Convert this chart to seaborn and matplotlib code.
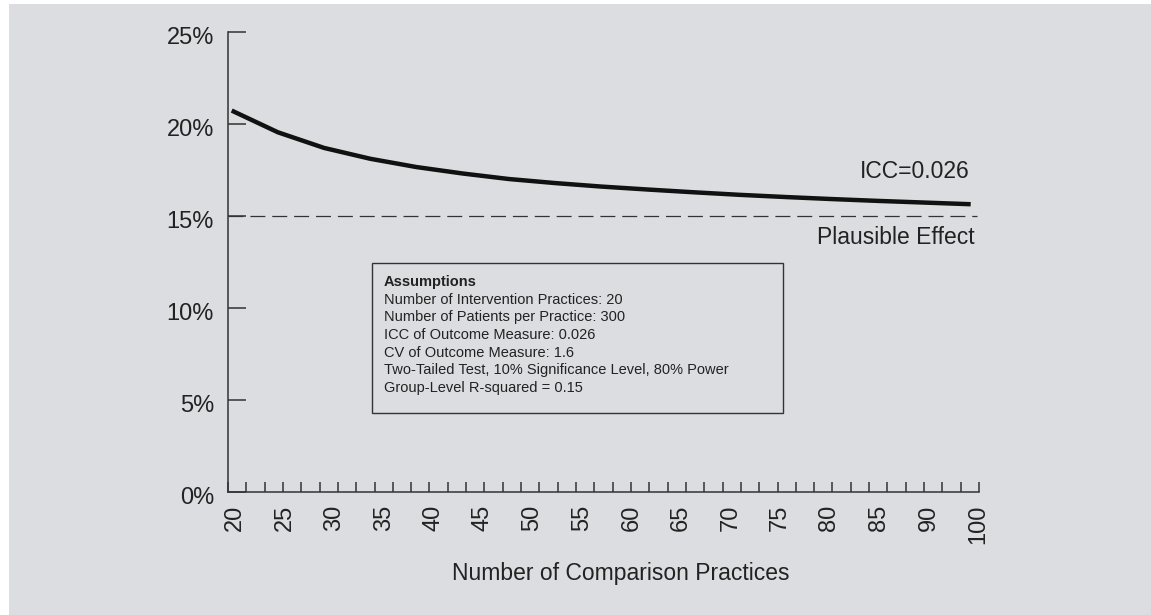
import numpy as np
import pandas as pd
import matplotlib
matplotlib.use("Agg")
import matplotlib.pyplot as plt
import matplotlib.transforms as mtransforms
from matplotlib.patches import Rectangle
import seaborn as sns

# Data
comparison_practices = [20, 25, 30, 35, 40, 45, 50, 55, 60, 65, 70, 75, 80, 85, 90, 95, 100]
min_detectable_effect = [20.73, 19.55, 18.70, 18.11, 17.66, 17.31, 17.01, 16.79, 16.60,
                         16.44, 16.29, 16.15, 16.03, 15.92, 15.82, 15.73, 15.64]
plausible_effect = 15
x_tick_labels = ["20", "25", "30", "35", "40", "45", "50", "55", "60", "65",
                 "70", "75", "80", "85", "90", "100"]
y_ticks = [0, 5, 10, 15, 20, 25]
assumptions = [
    "Number of Intervention Practices: 20",
    "Number of Patients per Practice: 300",
    "ICC of Outcome Measure: 0.026",
    "CV of Outcome Measure: 1.6",
    "Two-Tailed Test, 10% Significance Level, 80% Power",
    "Group-Level R-squared = 0.15",
]

df = pd.DataFrame({"n": comparison_practices, "mde": min_detectable_effect})

bg = "#dcdde0"
ink = "#222222"

sns.set_theme(style="ticks")
plt.rcParams["font.family"] = ["Liberation Sans", "DejaVu Sans"]

fig = plt.figure(figsize=(11.51, 6.15), dpi=100, facecolor="white")
fig.patches.append(Rectangle((9 / 1151, 0), 1, (615 - 4) / 615, transform=fig.transFigure,
                             facecolor=bg, edgecolor="none", zorder=-10))
ax = fig.add_axes([228 / 1151, 1 - 492 / 615, (979 - 228) / 1151, (492 - 32) / 615])
ax.set_facecolor(bg)

sns.lineplot(data=df, x="n", y="mde", ax=ax, color="#111111", linewidth=3.2,
             solid_capstyle="butt", solid_joinstyle="round")
ax.axhline(plausible_effect, xmin=0, xmax=(977 - 228) / 751, color="#333333",
           linewidth=0.9, dashes=(12, 5.5))

ax.set_xlim(19.6, 100.9)
ax.set_ylim(0, 25)

for side in ["top", "right"]:
    ax.spines[side].set_visible(False)
for side in ["left", "bottom"]:
    ax.spines[side].set_color("#333333")
    ax.spines[side].set_linewidth(1.1)

ax.set_yticks(y_ticks)
ax.set_yticklabels([f"{v}%" for v in y_ticks])
ax.tick_params(axis="y", direction="in", length=13, width=1.1, color="#333333",
               pad=10, labelsize=17, labelcolor=ink)
shift = mtransforms.ScaledTranslation(0, -4 / 100, fig.dpi_scale_trans)
for lab in ax.get_yticklabels():
    lab.set_transform(lab.get_transform() + shift)

ax.set_xticks(np.linspace(20.36, 100.8, len(x_tick_labels)))
ax.set_xticklabels(x_tick_labels, rotation=90)
ax.set_xticks(np.linspace(19.6, 100.9, 42), minor=True)
ax.tick_params(axis="x", which="major", length=0, pad=9, labelsize=17, labelcolor=ink)
ax.tick_params(axis="x", which="minor", direction="in", length=7.2, width=1.1,
               color="#333333")

ax.set_xlabel("Number of Comparison Practices", fontsize=16.5, color=ink)
ax.set_ylabel("")
ax.xaxis.set_label_coords(0.523, -0.152)

ax.text(99.9, 17.42, "ICC=0.026", ha="right", va="center", fontsize=16.5, color=ink)
ax.text(100.4, 13.85, "Plausible Effect", ha="right", va="center", fontsize=16.5, color=ink)

# Assumptions box
ax.add_patch(Rectangle((35.15, 4.31), 79.7 - 35.15, 12.44 - 4.31, facecolor="none",
                       edgecolor="#333333", linewidth=1.0))
ax.text(36.5, 11.44, "Assumptions", ha="left", va="center", fontsize=10.5,
        fontweight="bold", color=ink)
for i, line in enumerate(assumptions):
    ax.text(36.5, 10.44 - i * 0.955, line, ha="left", va="center", fontsize=10.5, color=ink)

fig.savefig("out.png", dpi=100, facecolor="white")
plt.close(fig)
